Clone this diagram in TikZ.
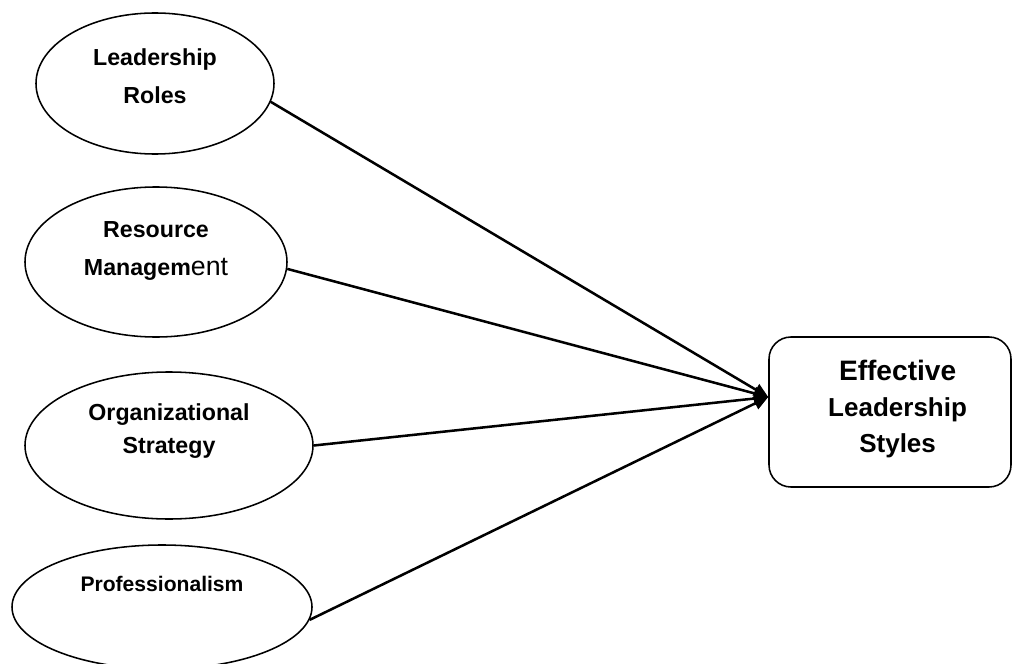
\documentclass[tikz,border=0pt]{standalone}
\usepackage{fontspec}
\setmainfont{Liberation Sans}
\usetikzlibrary{arrows.meta,shapes.geometric}

\begin{document}
\begin{tikzpicture}
[x=0.25mm,y=-0.25mm,
oval/.style={ellipse,draw=black,line width=1.1pt,inner sep=0pt},
txt/.style={align=center,font={\fontsize{16.5}{27}\selectfont\bfseries}},
arr/.style={line width=1.8pt,-{Triangle[length=0.36cm,width=0.32cm]}}]
\useasboundingbox (0,0) rectangle (1013,664);

\node[oval,minimum width=5.95cm,minimum height=3.525cm] (lr) at (155,83.5)
[label={[txt,yshift=0.19cm]center:Leadership\\Roles}] {};
\node[oval,minimum width=6.55cm,minimum height=3.75cm] (rm) at (156,262)
[label={[txt,yshift=0.275cm]center:Resource\\Managem{\mdseries\fontsize{19}{27}\selectfont ent}}] {};
\node[oval,minimum width=7.2cm,minimum height=3.675cm] (os) at (169,445.5)
[label={[txt,font={\fontsize{16.5}{23}\selectfont\bfseries},yshift=0.36cm]center:Organizational\\Strategy}] {};
\node[oval,minimum width=7.5cm,minimum height=3.1cm] (pr) at (162,607)
[label={[txt,font={\fontsize{15}{20}\selectfont\bfseries},yshift=0.575cm]center:Professionalism}] {};

\node[draw=black,line width=1.1pt,rounded corners=0.55cm,minimum width=6.05cm,minimum height=3.75cm] (els) at (890,412)
[label={[txt,font={\fontsize{18.5}{25.5}\selectfont\bfseries},xshift=0.19cm,yshift=0.075cm]center:{\fontsize{20}{26}\selectfont Effective}\\Leadership\\Styles}] {};

\draw [arr] (lr.-9) -- (els.173);
\draw [arr] (rm.-3) -- (els.173);
\draw [arr] (os.0) -- (els.173);
\draw [arr] (pr.-5) -- (els.173);
\end{tikzpicture}
\end{document}
